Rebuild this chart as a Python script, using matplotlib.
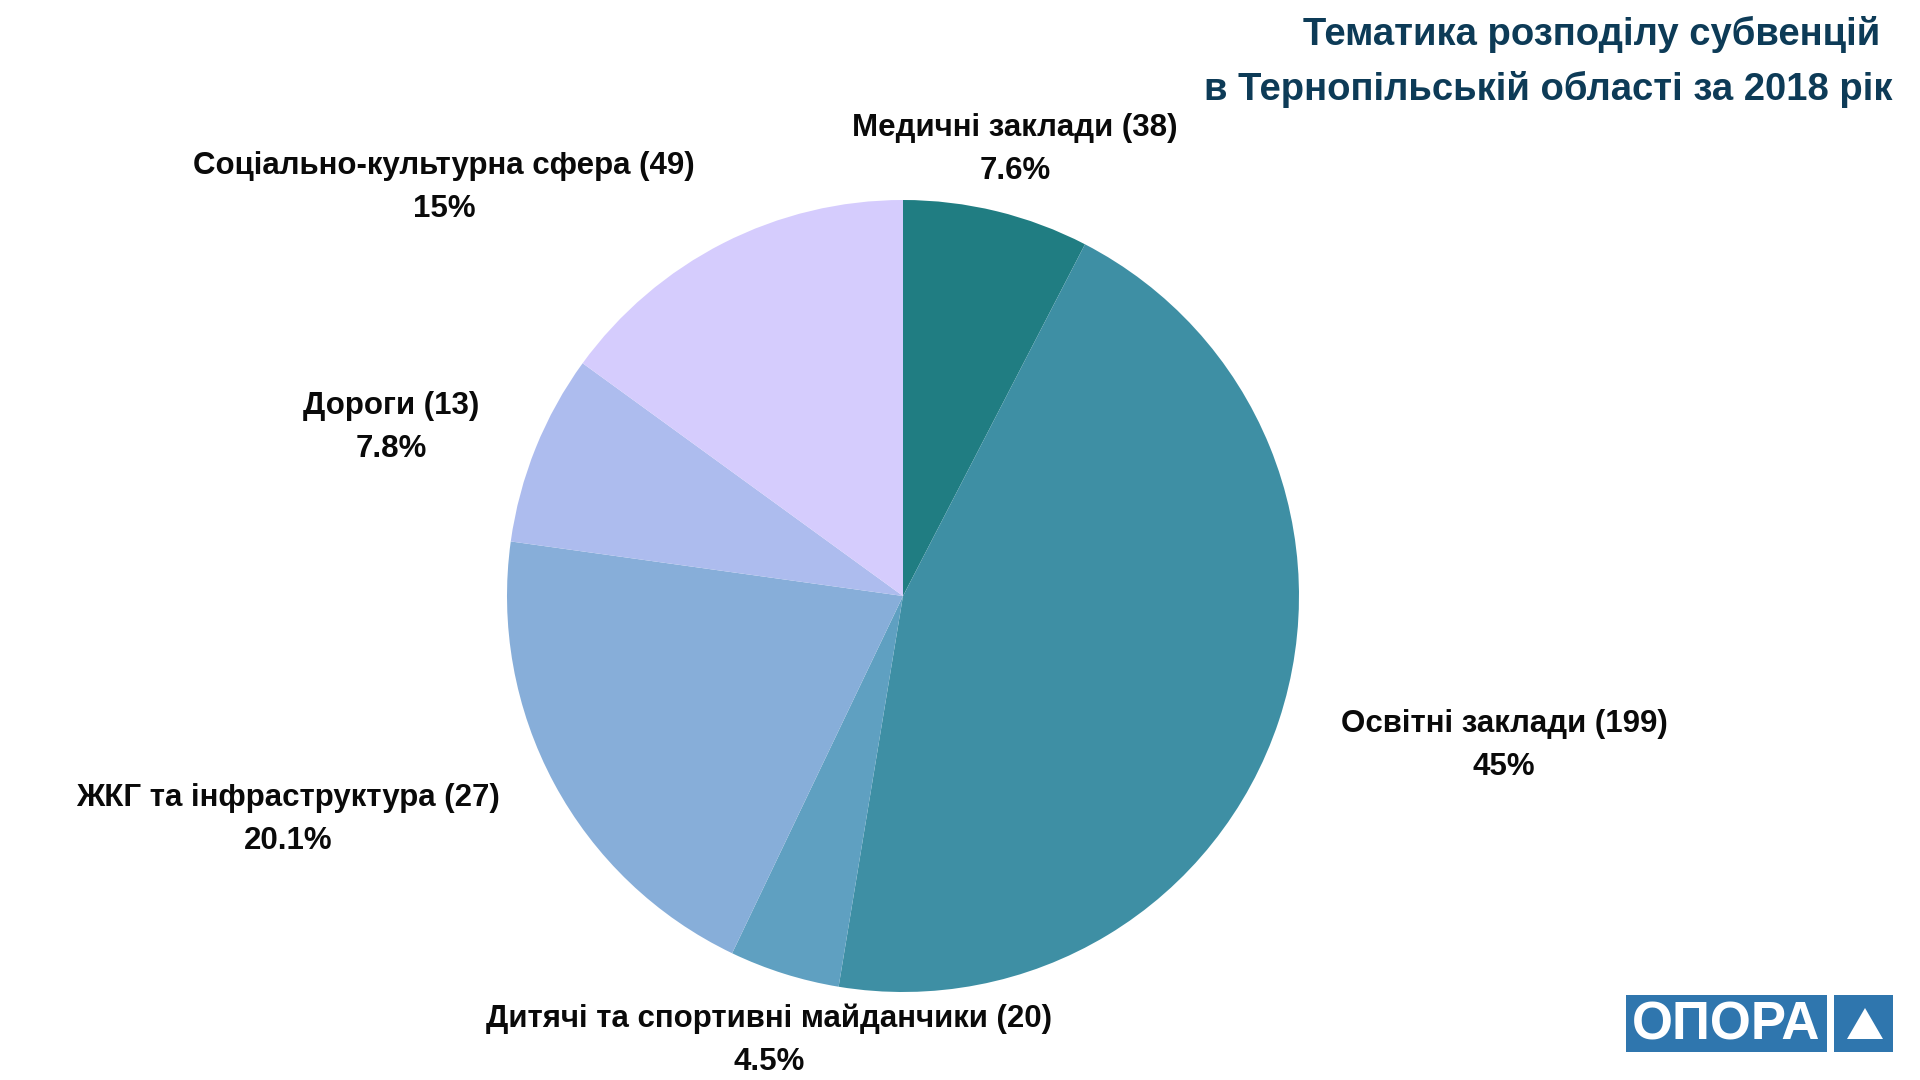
import matplotlib.pyplot as plt
from matplotlib.patches import Rectangle, Polygon

plt.rcParams['font.family'] = ['Liberation Sans', 'DejaVu Sans']

categories = [
    "Медичні заклади",
    "Освітні заклади",
    "Дитячі та спортивні майданчики",
    "ЖКГ та інфраструктура",
    "Дороги",
    "Соціально-культурна сфера",
]
counts = [38, 199, 20, 27, 13, 49]
shares = [7.6, 45, 4.5, 20.1, 7.8, 15]
pct_labels = ["7.6%", "45%", "4.5%", "20.1%", "7.8%", "15%"]
colors = ["#207d82", "#3e8fa4", "#5fa0c1", "#87aed9", "#adbcee", "#d5ccfd"]

title_lines = ["Тематика розподілу субвенцій", "в Тернопільській області за 2018 рік"]

# label anchor points in pixels (x, y from top)
label_pos = [(1015, 128), (1504, 724), (769, 1019), (288, 798), (391, 406), (444, 166)]

W, H = 1920, 1080
fig = plt.figure(figsize=(W / 100, H / 100), dpi=100)
ax = fig.add_axes([0, 0, 1, 1])

ax.pie(shares, colors=colors, startangle=90, counterclock=False,
       center=(903, H - 596), radius=396, frame=True,
       wedgeprops=dict(linewidth=0))
ax.set_xlim(0, W)
ax.set_ylim(0, H)
ax.set_aspect("equal")
ax.axis("off")

for name, n, pct, (x, y) in zip(categories, counts, pct_labels, label_pos):
    ax.text(x, H - y, f"{name} ({n})", ha="center", va="center",
            fontsize=22.5, fontweight="bold", color="#0a0a0a")
    ax.text(x, H - y - 43, pct, ha="center", va="center",
            fontsize=22.5, fontweight="bold", color="#0a0a0a")

ax.text(1880, H - 34, title_lines[0], ha="right", va="center",
        fontsize=27.5, fontweight="bold", color="#0d3b57")
ax.text(1892, H - 89, title_lines[1], ha="right", va="center",
        fontsize=27.5, fontweight="bold", color="#0d3b57")

# OPORA logo
logo_blue = "#2f76ae"
ax.add_patch(Rectangle((1626, H - 1052), 201, 57, color=logo_blue, lw=0))
ax.add_patch(Rectangle((1834, H - 1052), 59, 57, color=logo_blue, lw=0))
ax.add_patch(Polygon([(1865, H - 1008), (1847, H - 1039), (1883, H - 1039)],
                     closed=True, color="white", lw=0))
ax.text(1726, H - 1026, "ОПОРА", ha="center", va="center",
        fontsize=38, fontweight="heavy", color="white")

fig.savefig("out.png", dpi=100, facecolor="white")
